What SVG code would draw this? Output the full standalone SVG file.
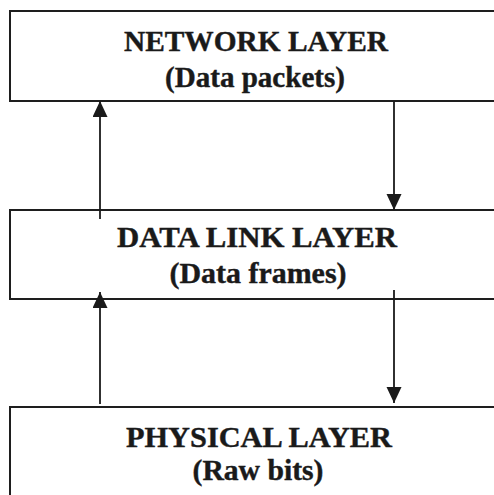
<svg xmlns="http://www.w3.org/2000/svg" width="494" height="495" viewBox="0 0 494 495">
<style>
.box{fill:none;stroke:#1e1e1e;stroke-width:2}
.lbl{font-family:"Liberation Serif","Times New Roman",serif;font-weight:bold;font-size:29px;fill:#1a1a1a;stroke:#1a1a1a;stroke-width:0.4;text-anchor:middle}
.conn line{stroke:#1a1a1a;stroke-width:1.8}
</style>
<defs>
<marker id="ah" markerUnits="userSpaceOnUse" markerWidth="16" markerHeight="16" viewBox="0 0 16 16" refX="16" refY="7.5" orient="auto">
<path d="M0,0 L16,7.5 L0,15 Z" fill="#1a1a1a"/>
</marker>
</defs>
<rect width="494" height="495" fill="#ffffff"/>
<g id="network-layer">
<rect class="box" x="10" y="11" width="500" height="90"/>
<text class="lbl" x="256" y="50.5" textLength="264" lengthAdjust="spacingAndGlyphs">NETWORK LAYER</text>
<text class="lbl" x="255" y="86.5" textLength="180" lengthAdjust="spacingAndGlyphs">(Data packets)</text>
</g>
<g id="data-link-layer">
<rect class="box" x="10" y="210" width="500" height="89"/>
<text class="lbl" x="257" y="247" textLength="280" lengthAdjust="spacingAndGlyphs">DATA LINK LAYER</text>
<text class="lbl" x="258" y="282.5" textLength="177" lengthAdjust="spacingAndGlyphs">(Data frames)</text>
</g>
<g id="physical-layer">
<rect class="box" x="10" y="407" width="500" height="100"/>
<text class="lbl" x="259" y="446.5" textLength="266" lengthAdjust="spacingAndGlyphs">PHYSICAL LAYER</text>
<text class="lbl" x="258" y="479.5" textLength="131" lengthAdjust="spacingAndGlyphs">(Raw bits)</text>
</g>
<g id="connectors" class="conn">
<line x1="100" y1="219" x2="100" y2="101" marker-end="url(#ah)"/>
<line x1="394" y1="101" x2="394" y2="210" marker-end="url(#ah)"/>
<line x1="100" y1="404" x2="100" y2="292" marker-end="url(#ah)"/>
<line x1="394" y1="290" x2="394" y2="403" marker-end="url(#ah)"/>
</g>
</svg>
